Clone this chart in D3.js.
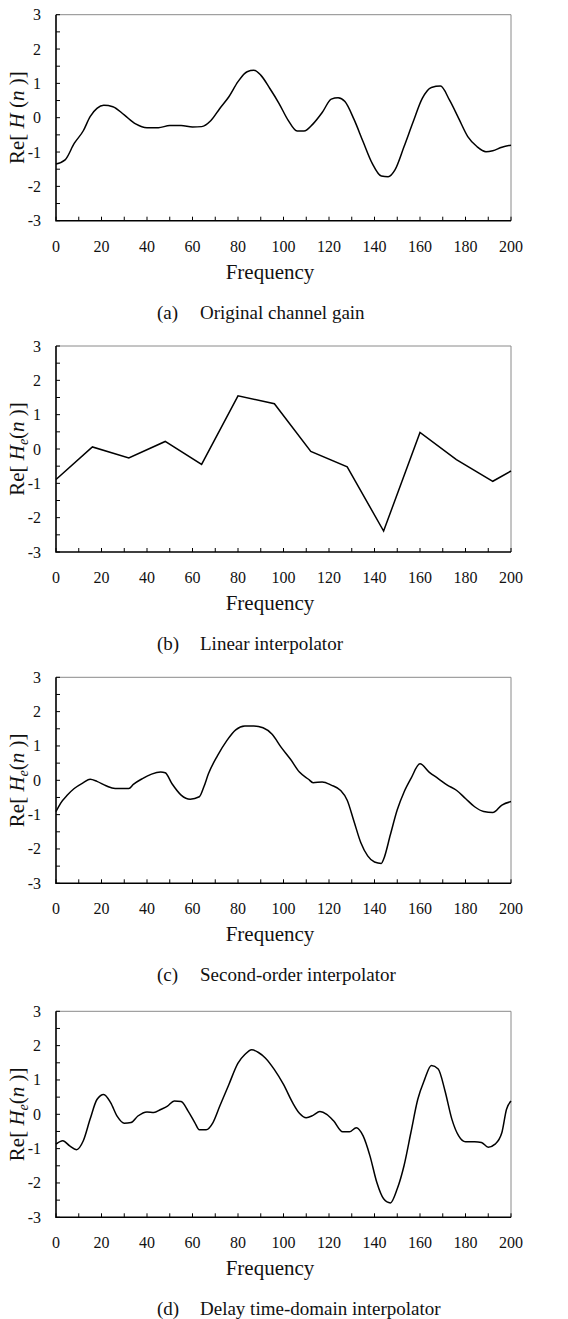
<!DOCTYPE html>
<html>
<head>
<meta charset="utf-8">
<script src="https://cdn.jsdelivr.net/npm/d3@7"></script>
<style>
  body { margin: 0; background: #fff; }
</style>
</head>
<body>
<svg></svg>
<script>
// values
var freqA = [0,4,8,12,15,18,21,25,30,35,40,45,50,55,60,64,68,72,76,80,84,87,90,94,98,102,106,109,113,117,121,124,127,131,135,139,143,146,149,153,157,161,165,169,173,177,181,185,189,192,196,200];
var gainA = [-1.35,-1.23,-0.75,-0.38,0.03,0.27,0.36,0.32,0.08,-0.18,-0.29,-0.29,-0.23,-0.23,-0.27,-0.26,-0.09,0.27,0.61,1.05,1.34,1.38,1.24,0.85,0.42,-0.07,-0.39,-0.39,-0.18,0.15,0.54,0.58,0.47,-0.05,-0.70,-1.33,-1.70,-1.72,-1.52,-0.84,-0.12,0.56,0.88,0.92,0.51,-0.02,-0.55,-0.84,-0.99,-0.96,-0.86,-0.80];

var freqB = [0,16,32,48,64,80,96,112,128,144,160,176,192,200];
var gainB = [-0.89,0.06,-0.26,0.22,-0.45,1.55,1.32,-0.07,-0.52,-2.39,0.48,-0.31,-0.94,-0.64];

var freqC = [0,2,5,8,12,15,18,22,26,32,34,38,42,46,48,51,55,59,63,65,67,71,75,79,83,87,91,95,99,103,107,111,113,117,121,125,128,131,134,137,140,143,144,147,150,153,156,160,164,168,172,176,180,184,188,192,196,200];
var gainC = [-0.91,-0.67,-0.43,-0.24,-0.07,0.03,-0.03,-0.16,-0.24,-0.24,-0.12,0.05,0.18,0.24,0.22,-0.10,-0.43,-0.55,-0.48,-0.19,0.19,0.72,1.15,1.47,1.58,1.58,1.53,1.34,0.96,0.62,0.24,0.03,-0.07,-0.05,-0.14,-0.29,-0.58,-1.20,-1.82,-2.20,-2.38,-2.42,-2.30,-1.58,-0.86,-0.34,0.05,0.48,0.24,0.05,-0.14,-0.29,-0.53,-0.77,-0.91,-0.94,-0.72,-0.62];

var freqD = [0,3,6,9,12,15,18,21,24,27,30,33,36,40,43,46,49,52,55,58,61,63,66,69,72,76,80,83,86,89,92,96,100,104,107,110,113,116,119,122,126,129,132,135,138,141,144,147,150,153,156,159,162,165,168,171,174,177,180,184,187,190,193,196,198,200];
var gainD = [-0.87,-0.77,-0.92,-1.03,-0.77,-0.14,0.43,0.58,0.34,-0.07,-0.26,-0.24,-0.05,0.07,0.05,0.14,0.24,0.39,0.37,0.10,-0.24,-0.45,-0.45,-0.24,0.24,0.87,1.49,1.74,1.88,1.80,1.64,1.30,0.87,0.34,0.03,-0.10,-0.03,0.08,0.00,-0.19,-0.51,-0.51,-0.39,-0.63,-1.21,-1.98,-2.46,-2.58,-2.17,-1.49,-0.53,0.43,1.01,1.42,1.32,0.68,-0.14,-0.63,-0.80,-0.80,-0.82,-0.96,-0.87,-0.53,0.14,0.39];

var xTicks = [0,20,40,60,80,100,120,140,160,180,200];
var yTicks = [-3,-2,-1,0,1,2,3];
var captionTags = ["(a)", "(b)", "(c)", "(d)"];
var captions = ["Original channel gain", "Linear interpolator", "Second-order interpolator", "Delay time-domain interpolator"];

var width = 568;
var height = 1319;
var plotTops = [14.7, 346, 677.3, 1011.3];
var plotH = 206;
var margin = {left: 56, right: 57};
var serif = "'Liberation Serif', 'Times New Roman', Times, serif";

var svg = d3.select("svg").attr("width", width).attr("height", height)
    .attr("font-family", serif).style("font-family", serif);

var panels = [
    {f: freqA, v: gainA, sub: false, curve: d3.curveMonotoneX},
    {f: freqB, v: gainB, sub: true, curve: d3.curveLinear},
    {f: freqC, v: gainC, sub: true, curve: d3.curveMonotoneX},
    {f: freqD, v: gainD, sub: true, curve: d3.curveMonotoneX}
];

var xScale = d3.scaleLinear().domain([0, 200]).range([margin.left, width - margin.right]);

panels.forEach(function(p, i){
    var top = plotTops[i];
    var yScale = d3.scaleLinear().domain([-3, 3]).range([top + plotH, top]);
    var g = svg.append("g");

    // top and right frame in grey
    g.append("path")
        .attr("d", "M" + xScale(0) + "," + yScale(3) + "H" + xScale(200) + "V" + yScale(-3))
        .attr("fill", "none").attr("stroke", "#8a8a8a").attr("stroke-width", 1);

    // minor ticks
    g.selectAll(".yt").data(d3.range(-3, 3.01, 0.5)).enter().append("line")
        .attr("x1", xScale(0)).attr("x2", xScale(0) + 4)
        .attr("y1", d => yScale(d)).attr("y2", d => yScale(d))
        .attr("stroke", "#000").attr("stroke-width", 1);
    g.selectAll(".xt").data(d3.range(0, 201, 10)).enter().append("line")
        .attr("x1", d => xScale(d)).attr("x2", d => xScale(d))
        .attr("y1", yScale(-3)).attr("y2", yScale(-3) - 4)
        .attr("stroke", "#000").attr("stroke-width", 1);

    // left / bottom axis lines
    g.append("path")
        .attr("d", "M" + xScale(0) + "," + yScale(3) + "V" + yScale(-3) + "H" + xScale(200))
        .attr("fill", "none").attr("stroke", "#000").attr("stroke-width", 1.6);

    // tick labels
    g.selectAll(".yl").data(yTicks).enter().append("text")
        .attr("x", 41).attr("y", d => yScale(d) + 5.5)
        .attr("text-anchor", "end").attr("font-size", 16).attr("fill", "#111")
        .text(d => d);
    g.selectAll(".xl").data(xTicks).enter().append("text")
        .attr("x", d => xScale(d)).attr("y", yScale(-3) + 31)
        .attr("text-anchor", "middle").attr("font-size", 16).attr("fill", "#111")
        .text(d => d);

    // axis titles
    g.append("text")
        .attr("x", 270).attr("y", yScale(-3) + 58)
        .attr("text-anchor", "middle").attr("font-size", 21).attr("fill", "#111")
        .text("Frequency");

    var yt = g.append("text")
        .attr("transform", "translate(24," + (top + plotH / 2) + ") rotate(-90)")
        .attr("text-anchor", "middle").attr("font-size", 21).attr("fill", "#111");
    yt.append("tspan").text("Re[ ");
    yt.append("tspan").attr("font-style", "italic").text("H");
    if (p.sub) {
        yt.append("tspan").attr("font-style", "italic").attr("font-size", 14).attr("dy", 4).text("e");
        yt.append("tspan").attr("dy", -4).text("(");
    } else {
        yt.append("tspan").text(" (");
    }
    yt.append("tspan").attr("font-style", "italic").text("n");
    yt.append("tspan").text(" )]");

    // caption
    g.append("text").attr("x", 157).attr("y", yScale(-3) + 98).attr("font-size", 19).attr("fill", "#111").text(captionTags[i]);
    g.append("text").attr("x", 200).attr("y", yScale(-3) + 98).attr("font-size", 19).attr("fill", "#111").text(captions[i]);

    // the curve
    var line = d3.line()
        .x((d, j) => xScale(p.f[j]))
        .y(d => yScale(d))
        .curve(p.curve);
    g.append("path")
        .attr("d", line(p.v))
        .attr("fill", "none")
        .attr("stroke", "#000")
        .attr("stroke-width", 1.5);
});
</script>
</body>
</html>
